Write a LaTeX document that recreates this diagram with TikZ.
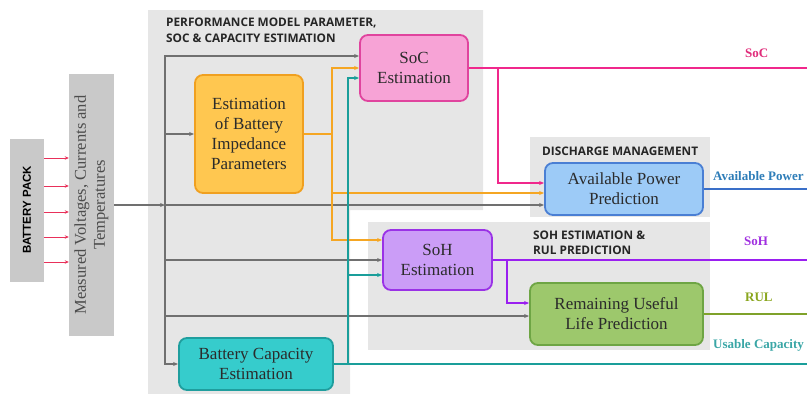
\documentclass[tikz,border=0pt]{standalone}
\usepackage{fontspec}
\setmainfont{Liberation Serif}
\newfontfamily\headfont{Open Sans}
\newfontfamily\packfont{Liberation Sans}
\usepackage{tikz}
\usetikzlibrary{arrows.meta}

\definecolor{panelgray}{HTML}{E6E6E6}
\definecolor{boxgray}{HTML}{C9C9C9}
\definecolor{linegray}{HTML}{707070}
\definecolor{textdark}{HTML}{2B2B2B}
\definecolor{impfill}{HTML}{FFC750}
\definecolor{impdraw}{HTML}{F0A020}
\definecolor{socfill}{HTML}{F7A3D6}
\definecolor{socdraw}{HTML}{E0449E}
\definecolor{apfill}{HTML}{9DCBF7}
\definecolor{apdraw}{HTML}{4A7FD4}
\definecolor{sohfill}{HTML}{CB9DF7}
\definecolor{sohdraw}{HTML}{9A32E6}
\definecolor{rulfill}{HTML}{9DC86C}
\definecolor{ruldraw}{HTML}{6EA544}
\definecolor{capfill}{HTML}{36CCCC}
\definecolor{capdraw}{HTML}{1F9E9E}
\definecolor{orangeline}{HTML}{F5A623}
\definecolor{pinkline}{HTML}{F0288C}
\definecolor{tealline}{HTML}{1A9E9A}
\definecolor{purpleline}{HTML}{9A1FF0}
\definecolor{greenline}{HTML}{7FA22A}
\definecolor{blueline}{HTML}{3A6FC8}
\definecolor{redline}{HTML}{E8305A}
\definecolor{socc}{HTML}{E02C7A}
\definecolor{apc}{HTML}{2E7DB8}
\definecolor{sohc}{HTML}{A030E0}
\definecolor{rulc}{HTML}{8AA61E}
\definecolor{capc}{HTML}{3AA6A6}

\begin{document}
\begin{tikzpicture}[x=1pt,y=-1pt,
blocknode/.style={rectangle, rounded corners=8pt, line width=1.8pt, align=center, text=textdark, inner sep=2pt, font=\fontsize{17}{20}\selectfont},
impnode/.style={blocknode, draw=impdraw, fill=impfill, minimum width=108pt, minimum height=118pt},
socnode/.style={blocknode, draw=socdraw, fill=socfill, minimum width=108pt, minimum height=66pt},
apnode/.style={blocknode, draw=apdraw, fill=apfill, minimum width=158pt, minimum height=52pt},
sohnode/.style={blocknode, draw=sohdraw, fill=sohfill, minimum width=109pt, minimum height=60pt},
rulnode/.style={blocknode, draw=ruldraw, fill=rulfill, minimum width=173pt, minimum height=62pt},
capnode/.style={blocknode, draw=capdraw, fill=capfill, minimum width=154pt, minimum height=52pt},
greynode/.style={rectangle, fill=boxgray, inner sep=0pt, rotate=90, align=center},
headtext/.style={anchor=west, align=left, inner sep=0pt, font=\headfont\bfseries\fontsize{11.8}{15.5}\selectfont, text=black!85},
outtext/.style={anchor=west, inner sep=0pt, font=\bfseries\fontsize{13}{15}\selectfont},
tip/.style={-{Stealth[length=5pt,width=4pt]}},
gline/.style={color=linegray, line width=1.4pt},
oline/.style={color=orangeline, line width=1.4pt},
tline/.style={color=tealline, line width=1.4pt},
pline/.style={color=pinkline, line width=1.4pt},
bline/.style={color=blueline, line width=1.4pt},
vline/.style={color=purpleline, line width=1.4pt},
nline/.style={color=greenline, line width=1.4pt},
]
\useasboundingbox (0,0) rectangle (807,394);

%Panels
\fill[panelgray] (148,10) -- (483,10) -- (483,210) -- (350,210) -- (350,394) -- (148,394) -- cycle;
\fill[panelgray] (530,137) rectangle (710,217);
\fill[panelgray] (368,222) rectangle (710,350);
\node[headtext] (perfhead) at (166,30.5) {PERFORMANCE MODEL PARAMETER,\\SOC \& CAPACITY ESTIMATION};
\node[headtext] (dischead) at (542,151) {DISCHARGE MANAGEMENT};
\node[headtext] (sohhead) at (533,243) {SOH ESTIMATION \&\\RUL PREDICTION};

%Nodes
\node[greynode, minimum width=143pt, minimum height=34pt, font=\packfont\bfseries\fontsize{11.5}{14}\selectfont] (pack) at (27,210) {BATTERY PACK};
\node[greynode, minimum width=262pt, minimum height=45pt, text=black!70, font=\fontsize{16.5}{19}\selectfont] (meas) at (91.5,205) {Measured Voltages, Currents and\\Temperatures};
\node[impnode] (imp) at (249,134) {Estimation\\of Battery\\Impedance\\Parameters};
\node[socnode] (soc) at (414,68) {SoC\\Estimation};
\node[apnode]  (ap)  at (624,189) {Available Power\\Prediction};
\node[sohnode] (soh) at (437.5,260) {SoH\\Estimation};
\node[rulnode] (rul) at (616.5,314) {Remaining Useful\\Life Prediction};
\node[capnode] (cap) at (256,364) {Battery Capacity\\Estimation};

%Coordinates
\coordinate (bus) at (165,205);
\coordinate (ojoin) at (332,134);
\coordinate (tjoin) at (348,364);
\coordinate (pjoin) at (498,68);
\coordinate (vjoin) at (507,260);
\coordinate (socend) at (807,68);
\coordinate (apend) at (807,189);
\coordinate (sohend) at (807,260);
\coordinate (rulend) at (807,314);
\coordinate (capend) at (807,364);

%Lines
\foreach \d in {52,24,-2,-27,-52}
  \draw[color=redline, line width=0.8pt, -{Stealth[length=4pt,width=3.5pt]}] ([yshift=\d pt]pack.south) -- ([yshift=\d pt]pack.south -| meas.north);

\draw[gline,tip] (meas.south) -- (bus);
\draw[gline,tip] (bus) -- (ap.west |- bus);
\draw[gline,tip] (bus) |- ([yshift=12pt]soc.west);
\draw[gline,tip] (bus) |- (imp.west);
\draw[gline,tip] (bus) |- (soh.west);
\draw[gline,tip] (bus) |- ([yshift=-2pt]rul.west);
\draw[gline,tip] (bus) |- (cap.west);

\draw[oline] (imp.east) -- (ojoin);
\draw[oline,tip] (ojoin) |- (soc.west);
\draw[oline,tip] (ojoin) |- ([yshift=-4pt]ap.west);
\draw[oline,tip] (ojoin) |- ([yshift=20pt]soh.west);

\draw[tline] (cap.east) -- (capend);
\draw[tline,tip] (tjoin) |- ([yshift=-10pt]soc.west);
\draw[tline,tip] (tjoin) |- ([yshift=-15pt]soh.west);

\draw[pline] (soc.east) -- (socend);
\draw[pline,tip] (pjoin) |- ([yshift=6pt]ap.west);

\draw[bline] (ap.east) -- (apend);

\draw[vline] (soh.east) -- (sohend);
\draw[vline,tip] (vjoin) |- ([yshift=11pt]rul.west);

\draw[nline] (rul.east) -- (rulend);

%Output labels
\node[outtext, text=socc] (soclbl) at (745,53) {SoC};
\node[outtext, text=apc]  (aplbl)  at (713,176) {Available Power};
\node[outtext, text=sohc] (sohlbl) at (744,241) {SoH};
\node[outtext, text=rulc] (rullbl) at (745,297) {RUL};
\node[outtext, text=capc] (caplbl) at (713,345) {Usable Capacity};
\end{tikzpicture}
\end{document}
